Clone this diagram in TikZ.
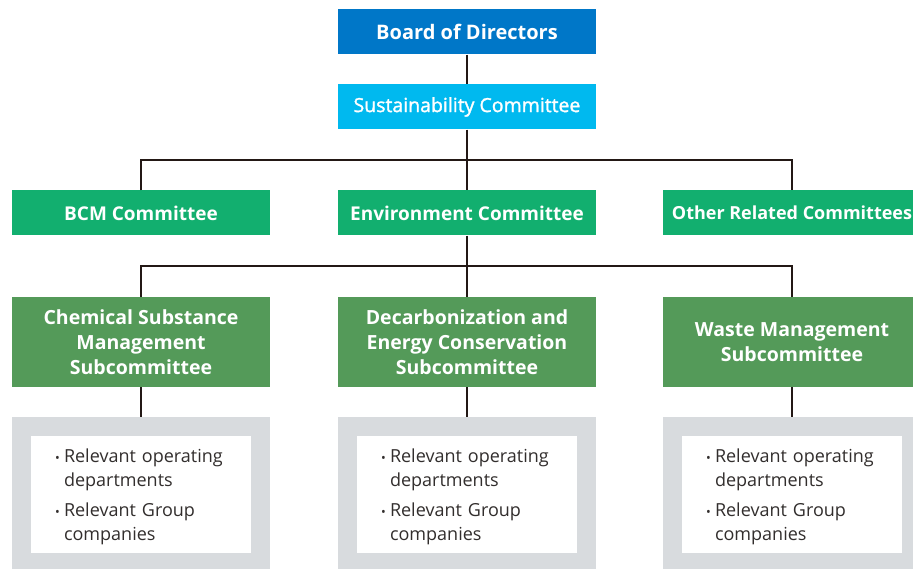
\documentclass[tikz,border=0pt]{standalone}
\usepackage{fontspec}
\setmainfont{Open Sans}
\newfontfamily\semifont[FakeBold=1.5]{Open Sans}
\usetikzlibrary{positioning}

\definecolor{boardblue}{RGB}{0,119,200}
\definecolor{sustblue}{RGB}{0,185,239}
\definecolor{commgreen}{RGB}{18,175,111}
\definecolor{subgreen}{RGB}{84,154,89}
\definecolor{listgray}{RGB}{216,219,222}
\definecolor{linkdark}{RGB}{35,24,21}
\definecolor{listtext}{RGB}{50,46,45}

\newcommand{\listitem}[2]{\noindent\makebox[9pt][l]{\scalebox{0.7}{\textbullet}}#1\\\hspace*{9pt}#2\par}

\begin{document}
\begin{tikzpicture}[x=1pt, y=-1pt,
    unit/.style={minimum width=258pt, minimum height=45pt, inner sep=0pt,
        text=white, align=center, font=\fontsize{19}{21}\selectfont\bfseries},
    subunit/.style={unit, fill=subgreen, minimum height=90pt,
        font=\fontsize{19.5}{25}\selectfont\bfseries},
    listbox/.style={fill=listgray, minimum width=258pt, minimum height=152pt, inner sep=0pt},
    listcard/.style={fill=white, minimum width=220pt, minimum height=117pt, inner sep=0pt},
    listtext/.style={text width=172pt, align=left, text=listtext, inner sep=0pt,
        font=\fontsize{18}{24}\selectfont\setlength{\parskip}{6pt}},
    link/.style={draw=linkdark, line width=1.6pt}]
    \useasboundingbox (0,0) rectangle (913,569);

    % Top of the organisation
    \node[unit, fill=boardblue, font=\fontsize{20}{21}\selectfont\bfseries] (board) at (467,32) {Board of Directors};
    \node[unit, fill=sustblue, font=\fontsize{19.5}{21}\selectfont\semifont] (sust) at (467,107) {Sustainability Committee};

    % Committees
    \node[unit, fill=commgreen] (bcm) at (141,213) {BCM Committee};
    \node[unit, fill=commgreen] (env) at (467,213) {Environment Committee};
    \node[unit, fill=commgreen, font=\fontsize{18}{21}\selectfont\bfseries] (other) at (792,213) {Other Related Committees};

    % Subcommittees
    \node[subunit] (chem) at (141,342) {Chemical Substance\\Management\\Subcommittee};
    \node[subunit] (decarb) at (467,342) {Decarbonization and\\Energy Conservation\\Subcommittee};
    \node[subunit] (waste) at (792,342) {Waste Management\\Subcommittee};

    % Member lists
    \foreach \name/\xpos in {chem/141, decarb/467, waste/792} {
        \node[listbox] (\name list) at (\xpos,493) {};
        \node[listcard] (\name card) at (\xpos,494.5) {};
        \node[listtext, yshift=-2pt] (\name text) at (\name card) {%
            \listitem{Relevant operating}{departments}%
            \listitem{Relevant Group}{companies}};
    }

    % Junctions
    \coordinate (split top) at (467,160);
    \coordinate (split env) at (467,266);

    % Connectors
    \draw[link] (board) -- (sust);
    \draw[link] (sust) -- (env);
    \draw[link] (bcm.north) |- (split top) -| (other.north);
    \draw[link] (env) -- (decarb);
    \draw[link] (chem.north) |- (split env) -| (waste.north);
    \foreach \name in {chem, decarb, waste}
        \draw[link] (\name) -- (\name list);
\end{tikzpicture}
\end{document}
